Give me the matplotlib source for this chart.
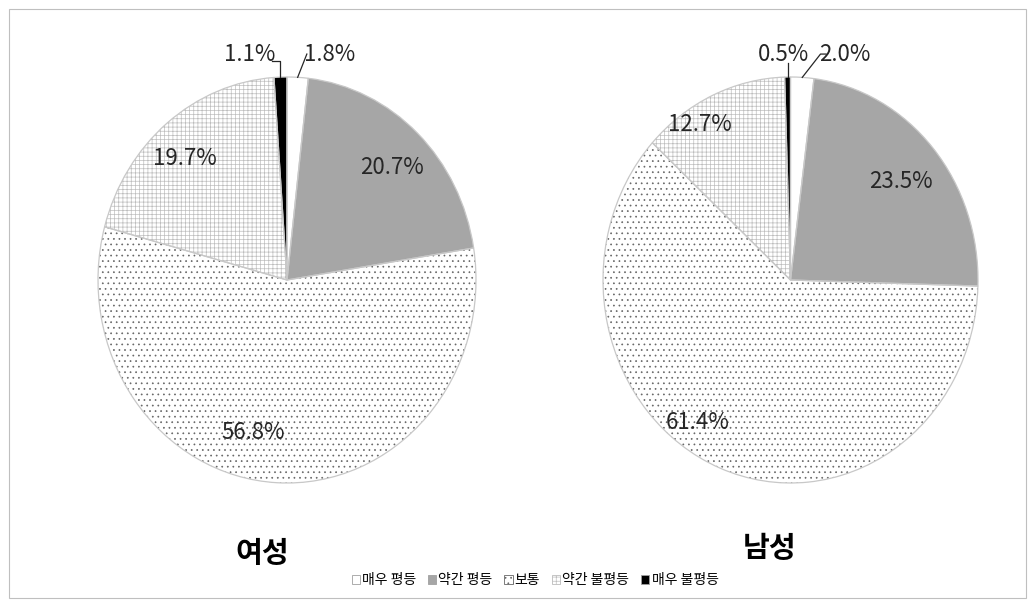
import numpy as np
import matplotlib
matplotlib.use('Agg')
import matplotlib.pyplot as plt
from matplotlib.patches import Patch, Rectangle

plt.rcParams['font.family'] = ['Noto Sans CJK KR', 'DejaVu Sans']
plt.rcParams['hatch.linewidth'] = 0.5

categories = ['매우 평등', '약간 평등', '보통', '약간 불평등', '매우 불평등']
female = [1.8, 20.7, 56.8, 19.7, 1.1]
male = [2.0, 23.5, 61.4, 12.7, 0.5]
titles = ['여성', '남성']

# fill / hatch / hatch colour per category
faces = ['white', '#a6a6a6', 'white', 'white', 'black']
hatches = [None, None, '...', '++++', None]
hcolors = ['#bfbfbf', '#a6a6a6', '#666666', '#bdbdbd', 'black']

# label offsets in pie units (layout only)
lab_f = [(0.225, 1.113), (0.556, 0.552), (-0.18, -0.749), (-0.54, 0.60), (-0.20, 1.113)]
lab_m = [(0.29, 1.113), (0.590, 0.483), (-0.495, -0.70), (-0.484, 0.768), (-0.035, 1.113)]

W, H = 1035, 604
fig = plt.figure(figsize=(W / 100, H / 100), dpi=100)
fig.patches.append(Rectangle((9 / W, 6 / H), 1017 / W, 589 / H, transform=fig.transFigure,
                             fill=False, edgecolor='#bfbfbf', lw=0.8))

boxes = [(98, 378), (603, 375)]
top, bot = 77, 483


def draw(ax, vals, labs, title):
    w1, _ = ax.pie(vals, startangle=90, counterclock=False, radius=1,
                   colors=faces, wedgeprops=dict(linewidth=0))
    for w, h, hc in zip(w1, hatches, hcolors):
        w.set_edgecolor(hc)
        if h:
            w.set_hatch(h)
    ax.pie(vals, startangle=90, counterclock=False, radius=1,
           colors=['none'] * 5, wedgeprops=dict(linewidth=0.9, edgecolor='#c8c8c8'))
    ax.set_aspect('auto')
    ax.set_xlim(-1, 1)
    ax.set_ylim(-1, 1)
    for v, (lx, ly) in zip(vals, labs):
        ax.text(lx, ly, f'{v:.1f}%', ha='center', va='center', fontsize=16,
                color='#262626', clip_on=False)
    # leader lines for the two small slices at the top
    for i in (0, 4):
        w = w1[i]
        mid = np.deg2rad((w.theta1 + w.theta2) / 2)
        ex, ey = np.cos(mid), np.sin(mid)
        lx, ly = labs[i]
        if i == 4:
            if lx < ex - 0.05:
                xs = [lx + 0.12, ex, ex]
                ys = [ly - 0.035, ly - 0.035, ey]
            else:
                xs = [ex, ex]
                ys = [ly - 0.045, ey]
        else:
            if title == '남성':
                xs = [lx - 0.10, lx - 0.13, ex]
                ys = [ly, ly, ey]
            else:
                xs = [lx - 0.12, ex]
                ys = [ly, ey]
        ax.plot(xs, ys, color='#262626', lw=0.9, clip_on=False)


for (x0, wd), vals, labs, t in zip(boxes, [female, male], [lab_f, lab_m], titles):
    ax = fig.add_axes([x0 / W, (H - bot) / H, wd / W, (bot - top) / H])
    draw(ax, vals, labs, t)

fig.text(262 / W, 1 - 553 / H, titles[0], ha='center', va='center', fontsize=21, fontweight='bold')
fig.text(770 / W, 1 - 548 / H, titles[1], ha='center', va='center', fontsize=21, fontweight='bold')

handles = [Patch(facecolor=f, edgecolor=(hc if h else '#a0a0a0'), hatch=h, lw=0.6)
           for f, h, hc in zip(faces, hatches, hcolors)]
fig.legend(handles, categories, loc='center', bbox_to_anchor=(535 / W, 1 - 580 / H), ncol=5,
           frameon=False, fontsize=10, handlelength=0.6, handleheight=0.6,
           handletextpad=0.15, columnspacing=0.85)

fig.savefig('out.png', dpi=100)
